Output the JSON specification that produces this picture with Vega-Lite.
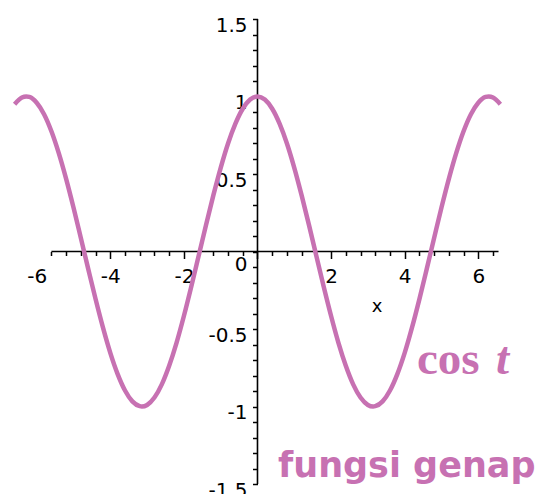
{
  "$schema": "https://vega.github.io/schema/vega-lite/v6.json",
  "width": 551,
  "height": 494,
  "padding": 0,
  "autosize": {"type": "none"},
  "config": {"view": {"stroke": null}},
  "encoding": {
    "x": {
      "field": "x",
      "type": "quantitative",
      "scale": {"domain": [-6.997, 7.976], "nice": false, "zero": false},
      "axis": {
        "orient": "bottom",
        "offset": -242.5,
        "domain": false,
        "grid": false,
        "title": null,
        "values": [-6, -5.6, -5.2, -4.8, -4.4, -4, -3.6, -3.2, -2.8, -2.4, -2, -1.6, -1.2, -0.8, -0.4, 0, 0.4, 0.8, 1.2, 1.6, 2, 2.4, 2.8, 3.2, 3.6, 4, 4.4, 4.8, 5.2, 5.6, 6, 6.4],
        "labelExpr": "datum.value % 2 == 0 && datum.value != 0 ? toString(datum.value) : ''",
        "tickSize": {"condition": {"test": "datum.value % 2 == 0", "value": 7}, "value": 4},
        "tickOpacity": {"condition": {"test": "datum.value == -6", "value": 0}, "value": 1},
        "tickColor": "#000",
        "tickWidth": 1.5,
        "labelFont": "DejaVu Sans",
        "labelFontSize": 20,
        "labelColor": "#000",
        "labelPadding": 8,
        "labelFlush": false,
        "labelOverlap": false,
        "labelBound": false
      }
    },
    "y": {
      "field": "y",
      "type": "quantitative",
      "scale": {"domain": [-1.5645, 1.6226], "nice": false, "zero": false},
      "axis": {
        "orient": "left",
        "offset": -257.5,
        "domain": false,
        "grid": false,
        "title": null,
        "values": [-1.5, -1.4, -1.3, -1.2, -1.1, -1, -0.9, -0.8, -0.7, -0.6, -0.5, -0.4, -0.3, -0.2, -0.1, 0, 0.1, 0.2, 0.3, 0.4, 0.5, 0.6, 0.7, 0.8, 0.9, 1, 1.1, 1.2, 1.3, 1.4, 1.5],
        "labelExpr": "abs(datum.value * 2 - round(datum.value * 2)) < 0.001 ? toString(datum.value) : ''",
        "tickSize": 5,
        "tickColor": "#000",
        "tickWidth": 1.5,
        "labelFont": "DejaVu Sans",
        "labelFontSize": 20,
        "labelColor": "#000",
        "labelPadding": 5.5,
        "labelAlign": "right",
        "labelBaseline": "middle",
        "labelOffset": {"condition": {"test": "datum.value == 0", "value": 13}, "value": 6},
        "labelFlush": false,
        "labelOverlap": false,
        "labelBound": false
      }
    }
  },
  "layer": [
    {
      "data": {"values": [{"x": -5.6, "x2": 6.55, "y": 0}]},
      "mark": {"type": "rule", "color": "#000", "strokeWidth": 1.6},
      "encoding": {"x2": {"field": "x2"}}
    },
    {
      "data": {"values": [{"x": 0, "y": -1.5, "y2": 1.5}]},
      "mark": {"type": "rule", "color": "#000", "strokeWidth": 1.6},
      "encoding": {"y2": {"field": "y2"}}
    },
    {
      "data": {"values": [
        {"x": -6.6, "y": 0.950}, {"x": -6.4, "y": 0.993}, {"x": -6.2832, "y": 1}, {"x": -6.2, "y": 0.997},
        {"x": -6.0, "y": 0.960}, {"x": -5.8, "y": 0.886}, {"x": -5.6, "y": 0.776}, {"x": -5.4, "y": 0.635},
        {"x": -5.2, "y": 0.469}, {"x": -5.0, "y": 0.284}, {"x": -4.8, "y": 0.087}, {"x": -4.6, "y": -0.112},
        {"x": -4.4, "y": -0.307}, {"x": -4.2, "y": -0.490}, {"x": -4.0, "y": -0.654}, {"x": -3.8, "y": -0.791},
        {"x": -3.6, "y": -0.897}, {"x": -3.4, "y": -0.967}, {"x": -3.2, "y": -0.998}, {"x": -3.1416, "y": -1},
        {"x": -3.0, "y": -0.990}, {"x": -2.8, "y": -0.942}, {"x": -2.6, "y": -0.857}, {"x": -2.4, "y": -0.737},
        {"x": -2.2, "y": -0.589}, {"x": -2.0, "y": -0.416}, {"x": -1.8, "y": -0.227}, {"x": -1.6, "y": -0.029},
        {"x": -1.4, "y": 0.170}, {"x": -1.2, "y": 0.362}, {"x": -1.0, "y": 0.540}, {"x": -0.8, "y": 0.697},
        {"x": -0.6, "y": 0.825}, {"x": -0.4, "y": 0.921}, {"x": -0.2, "y": 0.980}, {"x": 0, "y": 1},
        {"x": 0.2, "y": 0.980}, {"x": 0.4, "y": 0.921}, {"x": 0.6, "y": 0.825}, {"x": 0.8, "y": 0.697},
        {"x": 1.0, "y": 0.540}, {"x": 1.2, "y": 0.362}, {"x": 1.4, "y": 0.170}, {"x": 1.6, "y": -0.029},
        {"x": 1.8, "y": -0.227}, {"x": 2.0, "y": -0.416}, {"x": 2.2, "y": -0.589}, {"x": 2.4, "y": -0.737},
        {"x": 2.6, "y": -0.857}, {"x": 2.8, "y": -0.942}, {"x": 3.0, "y": -0.990}, {"x": 3.1416, "y": -1},
        {"x": 3.2, "y": -0.998}, {"x": 3.4, "y": -0.967}, {"x": 3.6, "y": -0.897}, {"x": 3.8, "y": -0.791},
        {"x": 4.0, "y": -0.654}, {"x": 4.2, "y": -0.490}, {"x": 4.4, "y": -0.307}, {"x": 4.6, "y": -0.112},
        {"x": 4.8, "y": 0.087}, {"x": 5.0, "y": 0.284}, {"x": 5.2, "y": 0.469}, {"x": 5.4, "y": 0.635},
        {"x": 5.6, "y": 0.776}, {"x": 5.8, "y": 0.886}, {"x": 6.0, "y": 0.960}, {"x": 6.2, "y": 0.997},
        {"x": 6.2832, "y": 1}, {"x": 6.4, "y": 0.993}, {"x": 6.6, "y": 0.950}
      ]},
      "mark": {"type": "line", "color": "#C771B2", "strokeWidth": 4.5, "interpolate": "monotone"},
      "encoding": {}
    },
    {
      "data": {"values": [{"x": 3.25, "y": -0.355, "label": "x"}]},
      "mark": {"type": "text", "font": "DejaVu Sans", "fontSize": 18, "color": "#000", "align": "center", "baseline": "middle"},
      "encoding": {"text": {"field": "label"}}
    },
    {
      "data": {"values": [{"x": 4.334, "y": -0.79, "label": "cos"}]},
      "mark": {"type": "text", "font": "Liberation Serif", "fontWeight": "bold", "fontSize": 47, "color": "#C771B2", "align": "left", "baseline": "alphabetic"},
      "encoding": {"text": {"field": "label"}}
    },
    {
      "data": {"values": [{"x": 6.48, "y": -0.79, "label": "t"}]},
      "mark": {"type": "text", "font": "Liberation Serif", "fontWeight": "bold", "fontStyle": "italic", "fontSize": 47, "color": "#C771B2", "align": "left", "baseline": "alphabetic"},
      "encoding": {"text": {"field": "label"}}
    },
    {
      "data": {"values": [{"x": 0.557, "y": -1.453, "label": "fungsi genap"}]},
      "mark": {"type": "text", "font": "DejaVu Sans", "fontWeight": "bold", "fontSize": 35, "color": "#C771B2", "align": "left", "baseline": "alphabetic"},
      "encoding": {"text": {"field": "label"}}
    }
  ]
}
